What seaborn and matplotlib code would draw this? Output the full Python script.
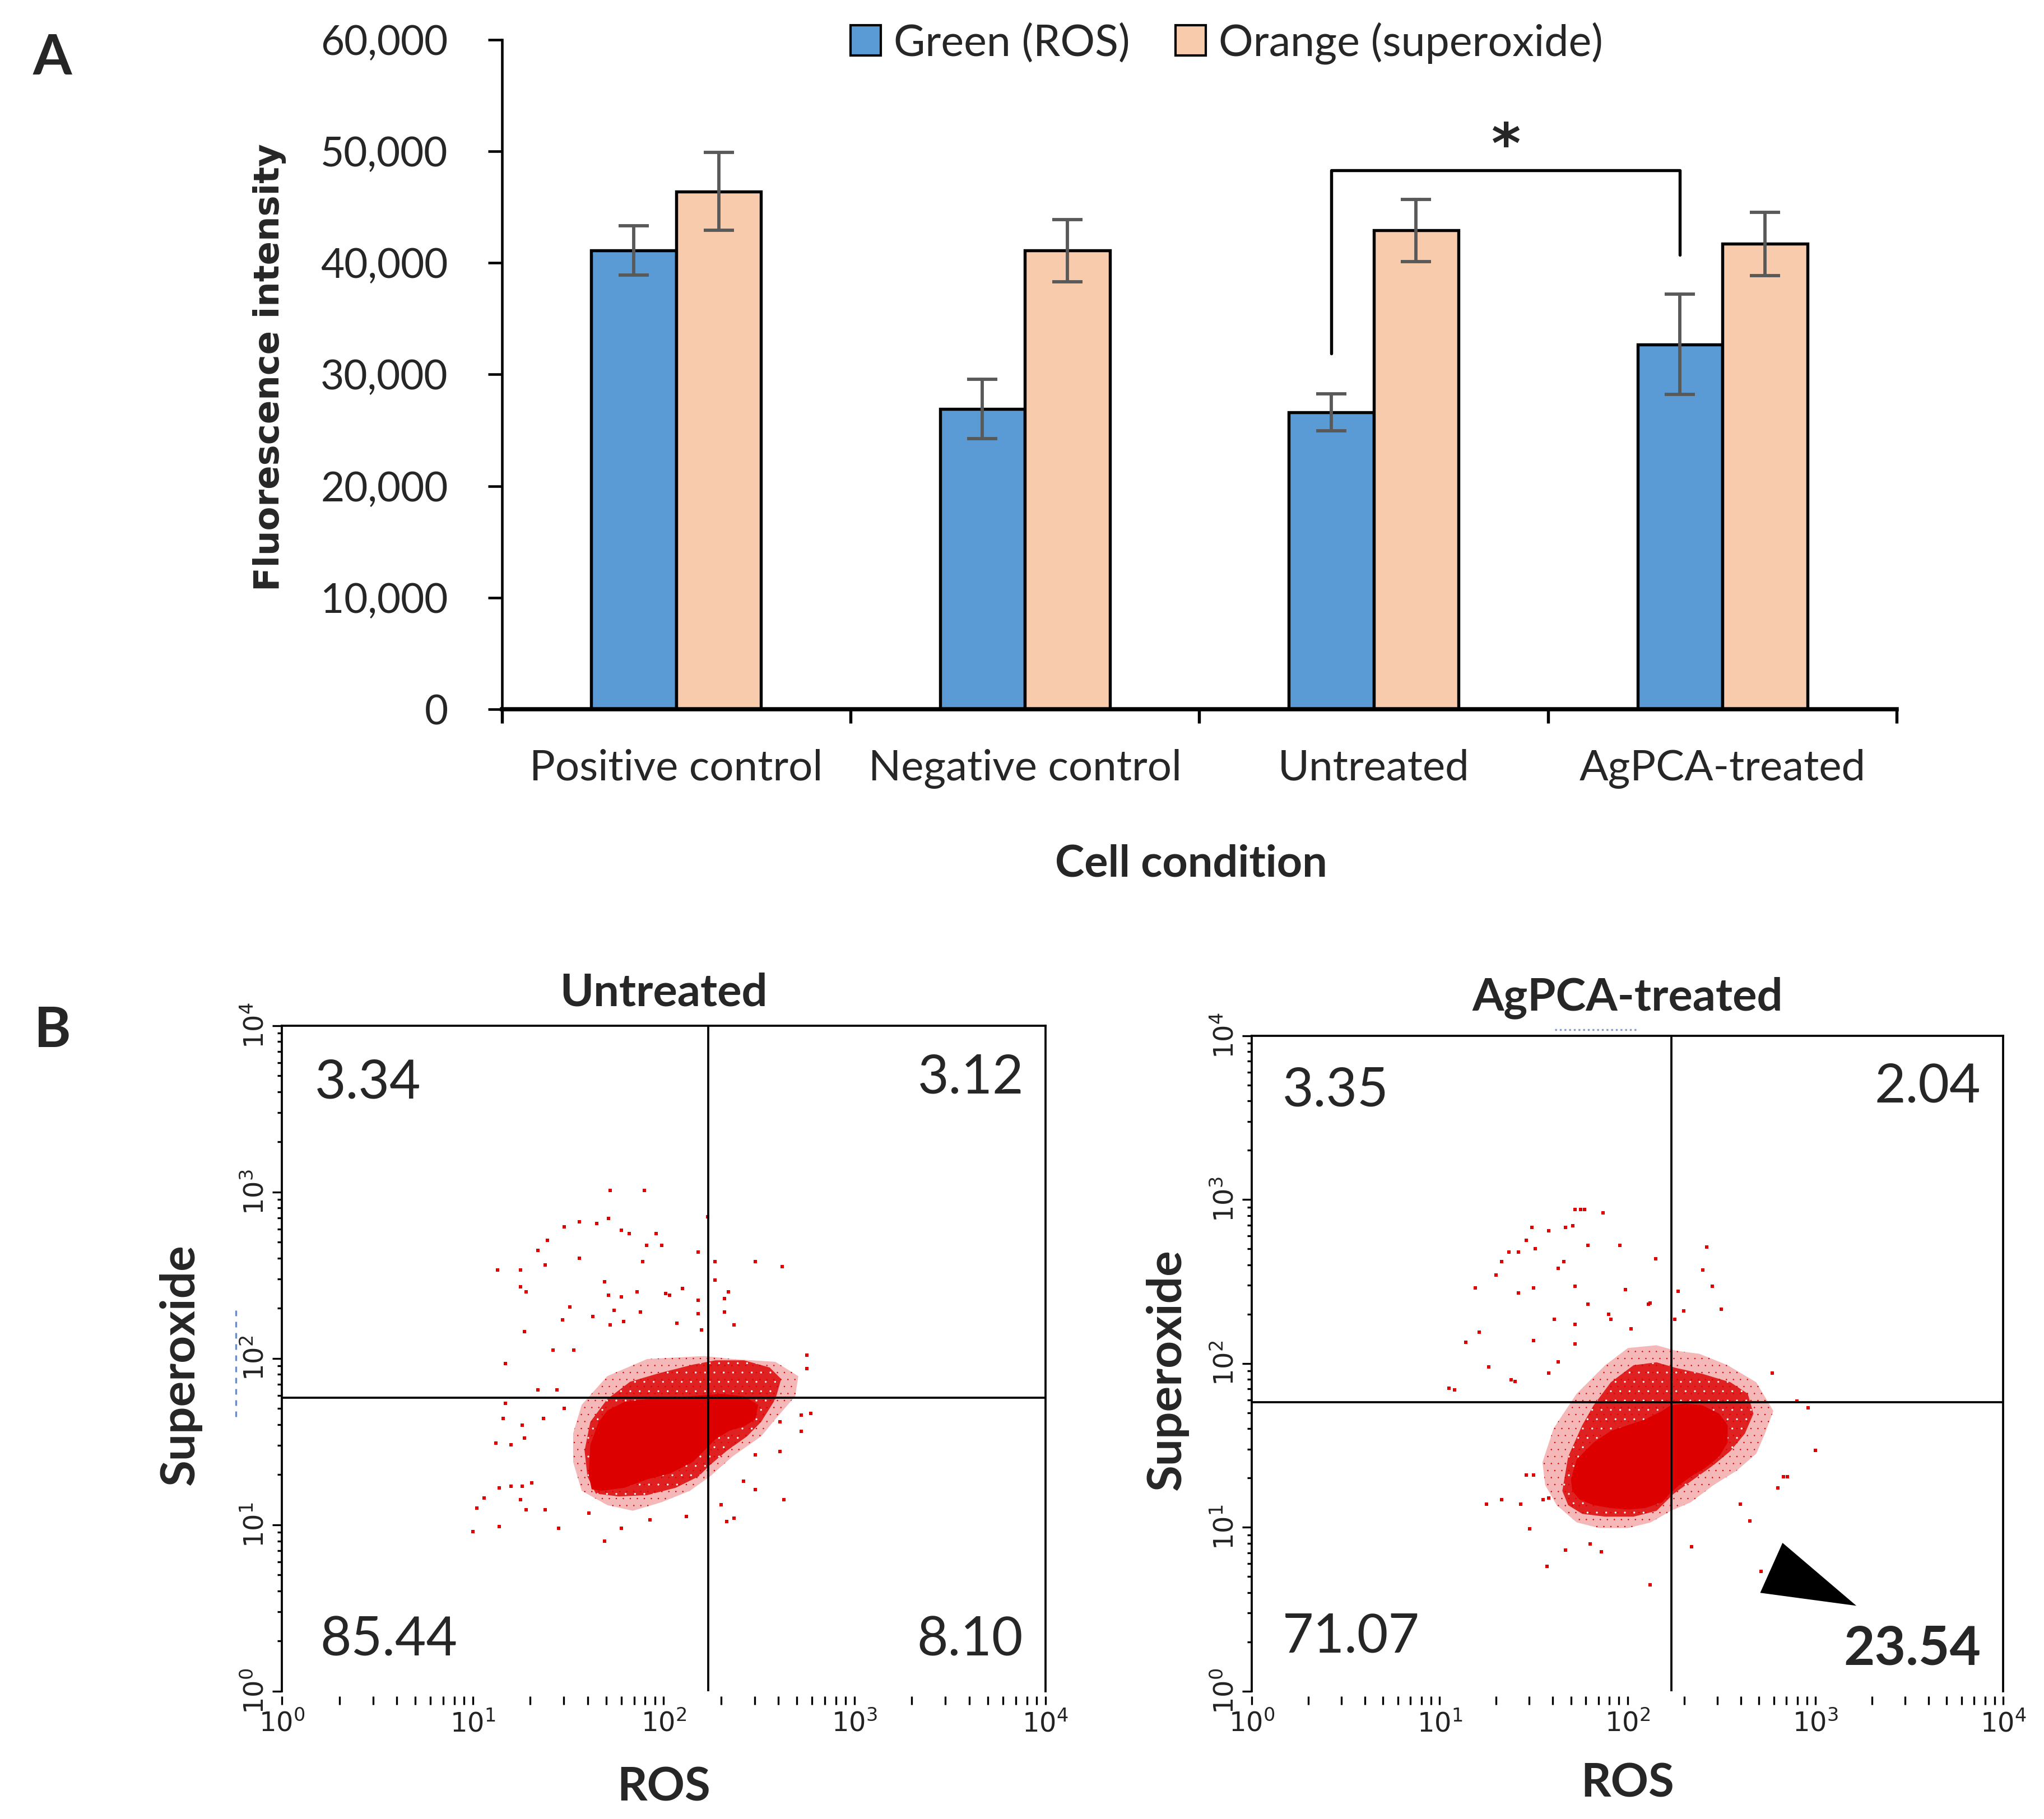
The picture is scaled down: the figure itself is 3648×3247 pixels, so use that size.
import numpy as np
import pandas as pd
import seaborn as sns
import matplotlib.pyplot as plt
from matplotlib.patches import Patch
from matplotlib.lines import Line2D
from matplotlib.ticker import FixedLocator, FuncFormatter, LogLocator, LogFormatterMathtext, NullFormatter

# ---------- panel A: plate reader ----------
conditions = ['Positive control', 'Negative control', 'Untreated', 'AgPCA-treated']
series = ['Green (ROS)', 'Orange (superoxide)']
ros_mean = [41100, 26900, 26600, 32700]
ros_err = [2200, 2650, 1650, 4500]
sup_mean = [46400, 41100, 42900, 41700]
sup_err = [3500, 2800, 2800, 2850]
bar_colors = ['#5B9BD5', '#F8CBAD']
y_ticks = [0, 10000, 20000, 30000, 40000, 50000, 60000]

# significance bracket between green bars
bracket_pair = ['Untreated', 'AgPCA-treated']
bracket_top = 48300
bracket_feet = [31900, 40700]

# ---------- panel B: flow cytometry (values are log10) ----------
gate_ros = [171, 171]
gate_sup = [58, 58]
untr_quads = ['3.34', '3.12', '85.44', '8.10']
ag_quads = ['3.35', '2.04', '71.07', '23.54']

# solid core of the event cloud
untr_core_x = [1.616, 1.660, 1.705, 1.795, 1.914, 2.063, 2.183, 2.302, 2.422, 2.496, 2.481, 2.422,
               2.347, 2.272, 2.213, 2.153, 2.034, 1.914, 1.795, 1.675, 1.623, 1.608]
untr_core_y = [1.480, 1.618, 1.686, 1.738, 1.755, 1.764, 1.776, 1.786, 1.772, 1.721, 1.635, 1.590,
               1.566, 1.514, 1.445, 1.377, 1.308, 1.273, 1.222, 1.204, 1.213, 1.300]
# mostly-filled speckle zone
untr_mid_x = [1.586, 1.616, 1.705, 1.824, 1.974, 2.153, 2.272, 2.422, 2.556, 2.616, 2.586, 2.511,
              2.437, 2.332, 2.243, 2.183, 2.063, 1.914, 1.765, 1.645, 1.601]
untr_mid_y = [1.445, 1.618, 1.755, 1.859, 1.910, 1.962, 1.988, 1.988, 1.945, 1.876, 1.755, 1.618,
              1.531, 1.445, 1.359, 1.290, 1.222, 1.178, 1.170, 1.187, 1.290]
# outer, sparse speckle zone
untr_fringe_x = [1.526, 1.571, 1.705, 1.914, 2.213, 2.362, 2.586, 2.706, 2.690, 2.586, 2.511, 2.362,
                 2.243, 2.138, 1.989, 1.839, 1.705, 1.571, 1.526]
untr_fringe_y = [1.549, 1.721, 1.893, 1.996, 2.014, 1.996, 1.979, 1.893, 1.773, 1.635, 1.531, 1.411,
                 1.290, 1.204, 1.135, 1.084, 1.118, 1.204, 1.377]
untr_out_x = [1.72, 1.90, 2.23, 1.71, 1.56, 1.65, 1.48, 1.78, 1.82, 1.96, 1.39, 1.99, 1.34, 1.91,
              1.56, 2.18, 1.89, 2.27, 2.48, 2.62, 1.13, 1.25, 1.38, 1.25, 1.28, 1.69, 2.27, 1.71,
              1.78, 1.86, 2.10, 2.32, 2.34, 2.18, 2.01, 2.03, 1.88, 1.51, 1.74, 2.18, 2.32, 2.37,
              1.27, 1.47, 1.63, 1.72, 1.79, 2.07, 2.20, 1.17, 1.42, 1.53, 2.75, 2.75, 1.34, 1.44,
              1.17, 1.16, 1.26, 1.37, 1.12, 1.20, 1.27, 1.48, 2.72, 2.77, 2.61, 2.72, 2.61, 2.48,
              1.06, 1.02, 1.14, 1.20, 1.26, 1.31, 1.38, 1.25, 1.28, 1.14, 1.00, 1.45, 1.69, 1.78,
              1.93, 2.30, 2.33, 2.37, 2.42, 2.48, 2.63, 2.12, 1.61]
untr_out_y = [3.01, 3.01, 2.85, 2.84, 2.82, 2.81, 2.79, 2.77, 2.75, 2.75, 2.71, 2.68, 2.65, 2.68,
              2.60, 2.64, 2.58, 2.58, 2.58, 2.55, 2.53, 2.53, 2.56, 2.43, 2.40, 2.46, 2.47, 2.38,
              2.37, 2.40, 2.42, 2.36, 2.40, 2.35, 2.39, 2.38, 2.28, 2.31, 2.29, 2.27, 2.28, 2.20,
              2.16, 2.23, 2.25, 2.20, 2.22, 2.21, 2.17, 1.97, 2.05, 2.05, 2.02, 1.94, 1.81, 1.81,
              1.73, 1.64, 1.60, 1.64, 1.49, 1.48, 1.52, 1.70, 1.66, 1.67, 1.62, 1.56, 1.44, 1.42,
              1.16, 1.10, 1.22, 1.23, 1.23, 1.25, 1.09, 1.15, 1.09, 0.99, 0.96, 0.98, 0.90, 0.98,
              1.03, 1.12, 1.02, 1.04, 1.26, 1.21, 1.15, 1.05, 1.07]

ag_core_x = [1.699, 1.729, 1.820, 1.911, 2.002, 2.093, 2.184, 2.230, 2.306, 2.397, 2.488, 2.533,
             2.533, 2.488, 2.412, 2.336, 2.275, 2.224, 2.184, 2.093, 2.002, 1.911, 1.820, 1.744, 1.706]
ag_core_y = [1.292, 1.414, 1.518, 1.588, 1.623, 1.658, 1.710, 1.745, 1.754, 1.745, 1.693, 1.623,
             1.518, 1.431, 1.361, 1.309, 1.257, 1.204, 1.152, 1.117, 1.108, 1.117, 1.135, 1.170, 1.222]
ag_mid_x = [1.653, 1.684, 1.759, 1.820, 1.911, 2.032, 2.154, 2.260, 2.397, 2.548, 2.640, 2.670,
            2.624, 2.548, 2.457, 2.351, 2.245, 2.154, 2.032, 1.881, 1.759, 1.684]
ag_mid_y = [1.222, 1.431, 1.623, 1.745, 1.885, 1.989, 2.007, 1.972, 1.937, 1.885, 1.815, 1.693,
            1.571, 1.466, 1.379, 1.292, 1.204, 1.100, 1.065, 1.065, 1.082, 1.135]
ag_fringe_x = [1.547, 1.607, 1.729, 1.881, 2.002, 2.154, 2.260, 2.382, 2.533, 2.685, 2.776, 2.731,
               2.685, 2.579, 2.457, 2.336, 2.230, 2.124, 2.002, 1.850, 1.729, 1.623, 1.562]
ag_fringe_y = [1.396, 1.605, 1.815, 1.989, 2.094, 2.111, 2.077, 2.059, 1.989, 1.885, 1.710, 1.571,
               1.449, 1.344, 1.257, 1.152, 1.100, 1.030, 0.995, 0.995, 1.030, 1.135, 1.257]
ag_out_x = [1.72, 1.75, 1.77, 1.87, 1.67, 1.71, 1.58, 1.49, 1.46, 1.51, 1.42, 1.37, 1.79, 1.96,
            2.42, 1.33, 1.66, 1.63, 1.30, 2.40, 2.15, 2.45, 1.19, 1.42, 1.50, 1.72, 1.99, 2.27,
            1.79, 2.11, 2.12, 2.50, 1.61, 1.72, 1.90, 1.91, 2.02, 2.30, 2.25, 1.21, 1.14, 1.50,
            1.26, 1.38, 1.40, 1.05, 1.08, 1.58, 1.63, 1.72, 2.77, 2.90, 2.96, 3.00, 2.83, 2.85,
            2.80, 2.65, 2.60, 2.34, 1.25, 1.33, 1.43, 1.48, 1.57, 1.67, 1.80, 1.86, 2.12, 2.71,
            1.46, 1.50, 1.58, 1.55]
ag_out_y = [2.94, 2.94, 2.94, 2.92, 2.83, 2.84, 2.81, 2.83, 2.75, 2.70, 2.68, 2.68, 2.72, 2.72,
            2.71, 2.62, 2.62, 2.58, 2.54, 2.57, 2.64, 2.47, 2.46, 2.43, 2.46, 2.47, 2.45, 2.44,
            2.36, 2.36, 2.37, 2.33, 2.27, 2.24, 2.30, 2.27, 2.21, 2.32, 2.27, 2.19, 2.13, 2.14,
            1.98, 1.90, 1.89, 1.85, 1.84, 1.94, 2.01, 2.12, 1.94, 1.77, 1.73, 1.47, 1.31, 1.31,
            1.24, 1.04, 1.14, 0.88, 1.14, 1.17, 1.14, 0.99, 0.76, 0.86, 0.90, 0.85, 0.65, 0.73,
            1.32, 1.32, 1.18, 1.17]
# arrow head pointing at the 23.54 quadrant
arrow_x = [2.825, 2.706, 3.218]
arrow_y = [0.905, 0.600, 0.521]

dot_red = '#DC0000'

sns.set_style('ticks')
plt.rcParams['font.family'] = ['Lato', 'DejaVu Sans']
plt.rcParams['hatch.linewidth'] = 0.0

fig = plt.figure(figsize=(3648 / 300, 3247 / 300), dpi=300)

# ================= A =================
axA = fig.add_axes([0.2455, 0.6101, 0.6825, 0.3681])
df = pd.DataFrame({
    'Condition': conditions * 2,
    'Series': [series[0]] * 4 + [series[1]] * 4,
    'Intensity': ros_mean + sup_mean,
})
sns.barplot(data=df, x='Condition', y='Intensity', hue='Series', order=conditions,
            hue_order=series, palette=bar_colors, saturation=1, width=0.487,
            edgecolor='black', linewidth=1.3, errorbar=None, legend=False, ax=axA)

green_x = []
for cont, errs in zip(axA.containers, [ros_err, sup_err]):
    xs = [p.get_x() + p.get_width() / 2 for p in cont]
    hs = [p.get_height() for p in cont]
    axA.errorbar(xs, hs, yerr=errs, fmt='none', ecolor='#595959', elinewidth=1.4,
                 capsize=6.5, capthick=1.4, zorder=5)
    if not green_x:
        green_x = xs

i1, i2 = conditions.index(bracket_pair[0]), conditions.index(bracket_pair[1])
bx = [green_x[i1], green_x[i1], green_x[i2], green_x[i2]]
axA.plot(bx, [bracket_feet[0], bracket_top, bracket_top, bracket_feet[1]], color='black', lw=1.3)
axA.text((green_x[i1] + green_x[i2]) / 2, bracket_top - 400, '*', ha='center', va='bottom',
         fontsize=24, fontweight='bold', family='DejaVu Sans')

axA.set_xlim(-0.5, 3.5)
axA.set_ylim(0, 60000)
axA.set_yticks(y_ticks)
axA.yaxis.set_major_formatter(FuncFormatter(lambda v, p: f'{v:,.0f}'))
axA.set_xticks(np.arange(-0.5, 4, 1))
axA.set_xticklabels([])
axA.set_xticks(range(len(conditions)), minor=True)
axA.set_xticklabels(conditions, minor=True)
axA.tick_params(axis='x', which='major', direction='out', length=6, width=1.3, color='black')
axA.tick_params(axis='x', which='minor', length=0, pad=17, labelsize=18.3)
axA.tick_params(axis='y', direction='out', length=6, width=1.1, pad=17, labelsize=17.5, color='black')
for s in ['top', 'right']:
    axA.spines[s].set_visible(False)
axA.spines['left'].set_linewidth(1.1)
axA.spines['bottom'].set_linewidth(1.8)
for s in ['left', 'bottom']:
    axA.spines[s].set_color('black')

axA.set_xlabel('Cell condition', fontsize=19, fontweight='bold')
axA.xaxis.set_label_coords(0.494, -0.231)
axA.xaxis.label.set_va('center')
axA.set_ylabel('Fluorescence intensity', fontsize=15, fontweight='bold', family='DejaVu Sans')
axA.yaxis.set_label_coords(-0.1665, 0.511)
axA.yaxis.label.set_va('center')

handles = [Patch(facecolor=c, edgecolor='black', linewidth=1.0) for c in bar_colors]
axA.legend(handles, series, loc='center left', bbox_to_anchor=(0.2500, 0.995), ncol=2,
           frameon=False, fontsize=18.5, handlelength=0.7, handleheight=0.7,
           handletextpad=0.3, columnspacing=1.05, borderaxespad=0, borderpad=0)

fig.text(0.0257, 0.9677, 'A', ha='center', va='center', fontsize=24, fontweight='bold')
fig.text(0.0257, 0.4333, 'B', ha='center', va='center', fontsize=24, fontweight='bold')


# ================= B =================
def facs_panel(ax, core, mid, fringe, out, gx, gy, quads, title, title_pad, ylab_x, xlab_y,
               quad_pos, bold_last):
    fx, fy = 10 ** np.array(fringe[0]), 10 ** np.array(fringe[1])
    ax.fill(fx, fy, facecolor=dot_red, alpha=0.28, edgecolor='none', zorder=1)
    ax.fill(fx, fy, facecolor='none', edgecolor=dot_red, linewidth=0, hatch='....', zorder=1)
    mx, my = 10 ** np.array(mid[0]), 10 ** np.array(mid[1])
    ax.fill(mx, my, facecolor=dot_red, alpha=0.82, edgecolor='none', zorder=1.5)
    ax.fill(mx, my, facecolor='none', edgecolor='white', linewidth=0, hatch='...', zorder=1.6)
    ax.fill(10 ** np.array(core[0]), 10 ** np.array(core[1]), color=dot_red, linewidth=0, zorder=2)
    pts = pd.DataFrame({'ros': 10 ** np.array(out[0]), 'sup': 10 ** np.array(out[1])})
    sns.scatterplot(data=pts, x='ros', y='sup', marker='s', s=2.4, linewidth=0,
                    color=dot_red, ax=ax, zorder=3)
    ax.axvline(gx, color='black', lw=0.9, zorder=4)
    ax.axhline(gy, color='black', lw=0.9, zorder=4)

    ax.set_xscale('log')
    ax.set_yscale('log')
    ax.set_xlim(1, 1e4)
    ax.set_ylim(1, 1e4)
    for a in [ax.xaxis, ax.yaxis]:
        a.set_major_locator(FixedLocator([1, 10, 100, 1000, 10000]))
        a.set_major_formatter(LogFormatterMathtext())
        a.set_minor_locator(LogLocator(base=10, subs=np.arange(2, 10), numticks=20))
        a.set_minor_formatter(NullFormatter())
    ax.spines['bottom'].set_visible(False)
    ax.spines['bottom'].set_position(('outward', 2.2))
    for s in ['left', 'top', 'right']:
        ax.spines[s].set_linewidth(0.9)
        ax.spines[s].set_color('black')
    ax.tick_params(axis='x', which='both', direction='out', length=3.6, width=0.8,
                   color='black', labelsize=11.5, labelcolor='#222222', pad=2.5)
    ax.tick_params(axis='y', which='major', direction='out', length=4, width=0.8,
                   color='black', labelsize=11.5, labelcolor='#222222', pad=1.5, labelrotation=90)
    ax.tick_params(axis='y', which='minor', direction='out', length=2, width=0.8, color='black')
    for lab in ax.get_xticklabels() + ax.get_yticklabels():
        lab.set_family(['Liberation Sans Narrow', 'DejaVu Sans'])
    for lab in ax.get_yticklabels():
        lab.set_va('center')

    ax.set_title(title, fontsize=19.5, fontweight='bold', pad=title_pad)
    ax.set_xlabel('ROS', fontsize=20, fontweight='bold')
    ax.xaxis.set_label_coords(0.5, xlab_y)
    ax.xaxis.label.set_va('center')
    ax.set_ylabel('Superoxide', fontsize=20.5, fontweight='bold')
    ax.yaxis.set_label_coords(ylab_x, 0.49)
    ax.yaxis.label.set_va('center')

    for i, (txt, (px, py)) in enumerate(zip(quads, quad_pos)):
        ha = 'left' if px < 0.5 else 'right'
        wt = 'bold' if (bold_last and i == 3) else 'normal'
        ax.text(px, py, txt, transform=ax.transAxes, ha=ha, va='baseline',
                fontsize=23, fontweight=wt, zorder=6)


axL = fig.add_axes([0.1379, 0.0703, 0.3735, 0.3659])
facs_panel(axL, (untr_core_x, untr_core_y), (untr_mid_x, untr_mid_y),
           (untr_fringe_x, untr_fringe_y), (untr_out_x, untr_out_y),
           gate_ros[0], gate_sup[0], untr_quads, 'Untreated', 8.5, -0.133, -0.145,
           [(0.043, 0.891), (0.972, 0.898), (0.050, 0.053), (0.971, 0.053)], False)

axR = fig.add_axes([0.6124, 0.0703, 0.3677, 0.3603])
facs_panel(axR, (ag_core_x, ag_core_y), (ag_mid_x, ag_mid_y),
           (ag_fringe_x, ag_fringe_y), (ag_out_x, ag_out_y),
           gate_ros[1], gate_sup[1], ag_quads, 'AgPCA-treated', 11, -0.113, -0.141,
           [(0.041, 0.893), (0.970, 0.899), (0.041, 0.059), (0.970, 0.040)], True)
axR.fill(10 ** np.array(arrow_x), 10 ** np.array(arrow_y), color='black', linewidth=0, zorder=6)

# faint scan artefacts from the original cytometer export
fig.add_artist(Line2D([0.1153, 0.1153], [0.221, 0.281], color='#4a6fb5', lw=0.8,
                      ls=(0, (3, 3)), alpha=0.8))
fig.add_artist(Line2D([0.7607, 0.8010], [0.4338, 0.4338], color='#4a6fb5', lw=0.8,
                      ls=(0, (1, 1.5)), alpha=0.7))

fig.savefig('out.png', dpi=300)
